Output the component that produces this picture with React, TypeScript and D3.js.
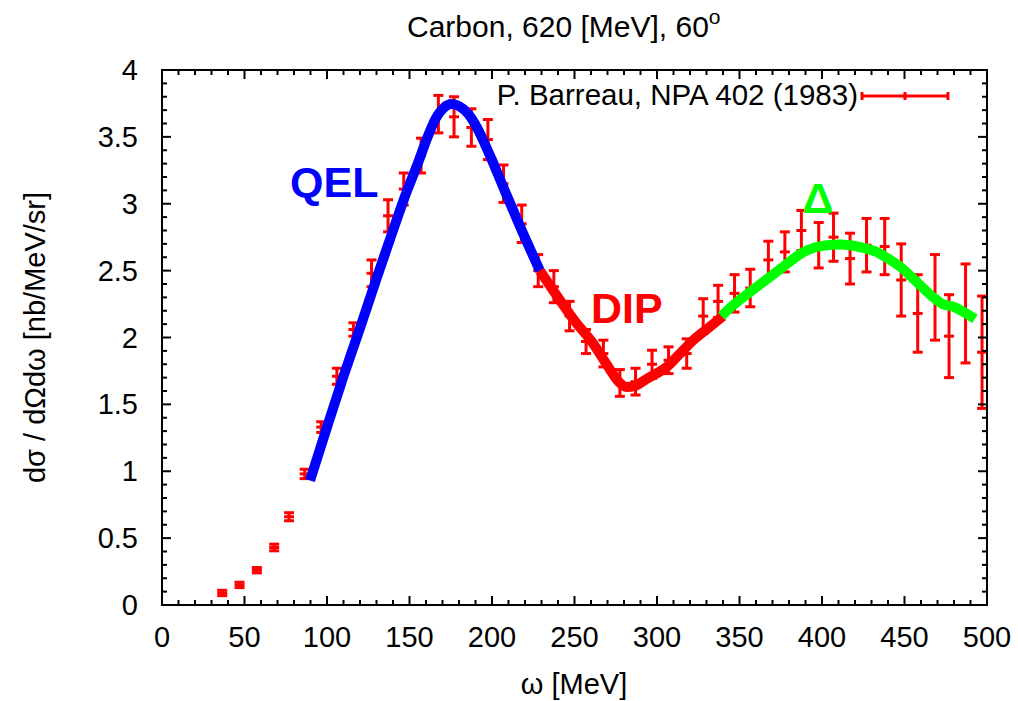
import React, { useEffect, useRef } from 'react';
import * as d3 from 'd3';

// measured points (Barreau, NPA 402)
const omega = [36.5, 47, 57.5, 68, 77, 86.5, 96.5, 106, 116, 127, 137, 146.5, 157, 167.5, 177, 187.5, 197.5, 207, 218, 228,
  237.5, 247, 257, 267.5, 277.5, 287, 297, 307, 318, 328, 337, 347, 356.5, 367.5, 377.5, 387.5, 398, 407, 417, 427,
  438, 448, 458, 468.5, 477, 487, 497];
const sigma = [0.09, 0.15, 0.26, 0.43, 0.66, 0.98, 1.33, 1.71, 2.06, 2.48, 2.91, 3.11, 3.36, 3.67, 3.65, 3.57, 3.48, 3.15, 2.85, 2.5,
  2.38, 2.16, 1.97, 1.88, 1.66, 1.67, 1.8, 1.83, 1.88, 2.16, 2.27, 2.33, 2.37, 2.58, 2.64, 2.8, 2.69, 2.75, 2.59, 2.69,
  2.68, 2.43, 2.18, 2.3, 2.01, 2.18, 1.89];
const sigmaErr = [0.02, 0.02, 0.02, 0.025, 0.03, 0.035, 0.04, 0.06, 0.05, 0.1, 0.12, 0.12, 0.13, 0.14, 0.15, 0.14, 0.15, 0.14, 0.14, 0.12,
  0.12, 0.11, 0.09, 0.1, 0.1, 0.1, 0.105, 0.1, 0.11, 0.13, 0.12, 0.14, 0.14, 0.14, 0.15, 0.15, 0.17, 0.18, 0.19, 0.2,
  0.21, 0.27, 0.29, 0.32, 0.31, 0.37, 0.42];

// model curves
const qelOmega = [89.7, 100, 110, 120, 130, 140, 148, 155, 161, 166, 171, 175.5, 180, 185, 190, 198.8, 208, 217, 229];
const qelValue = [0.93, 1.33, 1.71, 2.07, 2.44, 2.8, 3.08, 3.3, 3.5, 3.64, 3.72, 3.745, 3.73, 3.68, 3.59, 3.36, 3.09, 2.83, 2.5];
const dipOmega = [229, 240, 251, 260.4, 270.5, 276, 281.6, 287, 293.7, 305.9, 314, 322, 331, 340];
const dipValue = [2.5, 2.3, 2.11, 1.97, 1.78, 1.68, 1.63, 1.64, 1.69, 1.78, 1.88, 1.98, 2.07, 2.16];
const deltaOmega = [339, 347, 356.4, 366, 376.6, 384, 390.7, 396, 402.8, 411, 417, 425, 433, 440, 447.3, 457, 467.5, 473, 479.6, 486, 492.7];
const deltaValue = [2.16, 2.25, 2.34, 2.43, 2.53, 2.6, 2.65, 2.675, 2.69, 2.695, 2.69, 2.67, 2.64, 2.59, 2.53, 2.42, 2.3, 2.25, 2.23, 2.19, 2.14];

const xTicks = [0, 50, 100, 150, 200, 250, 300, 350, 400, 450, 500];
const yTicks = [0, 0.5, 1, 1.5, 2, 2.5, 3, 3.5, 4];

const FONT = '"Liberation Sans", Arial, sans-serif';

const App = () => {
  const ref = useRef<SVGSVGElement>(null);

  useEffect(() => {
    document.body.style.margin = '0';
    const svg = d3.select(ref.current);
    svg.selectAll('*').remove();

    const left = 162, right = 987, top = 70, bottom = 605;
    const x = d3.scaleLinear().domain([0, 500]).range([left, right]);
    const y = d3.scaleLinear().domain([0, 4]).range([bottom, top]);

    // data with error bars
    const pts = svg.append('g').attr('stroke', '#ff0000').attr('stroke-width', 3);
    omega.forEach((w, i) => {
      const cx = x(w);
      const lo = y(sigma[i] - sigmaErr[i]);
      const hi = y(sigma[i] + sigmaErr[i]);
      pts.append('line').attr('x1', cx).attr('x2', cx).attr('y1', lo).attr('y2', hi);
      pts.append('line').attr('x1', cx - 5).attr('x2', cx + 5).attr('y1', lo).attr('y2', lo);
      pts.append('line').attr('x1', cx - 5).attr('x2', cx + 5).attr('y1', hi).attr('y2', hi);
      pts.append('line').attr('x1', cx - 5).attr('x2', cx + 5).attr('y1', y(sigma[i])).attr('y2', y(sigma[i]));
    });

    // theory curves
    const line = d3.line<number>().curve(d3.curveMonotoneX);
    const drawCurve = (ws: number[], vs: number[], color: string) => {
      svg.append('path')
        .attr('d', line.x((d, i) => x(ws[i])).y(d => y(d))(vs))
        .attr('fill', 'none')
        .attr('stroke', color)
        .attr('stroke-width', 10);
    };
    drawCurve(qelOmega, qelValue, '#0000ff');
    drawCurve(dipOmega, dipValue, '#ff0000');
    drawCurve(deltaOmega, deltaValue, '#00ff00');

    // frame and ticks on all sides
    const axes = svg.append('g').attr('stroke', '#000').attr('stroke-width', 2);
    for (let v = 0; v <= 500; v += 10) {
      const len = v % 50 === 0 ? 9 : 5;
      axes.append('line').attr('x1', x(v)).attr('x2', x(v)).attr('y1', bottom).attr('y2', bottom - len);
      axes.append('line').attr('x1', x(v)).attr('x2', x(v)).attr('y1', top).attr('y2', top + len);
    }
    for (let k = 0; k <= 40; k++) {
      const v = k / 10;
      const len = k % 5 === 0 ? 9 : 5;
      axes.append('line').attr('x1', left).attr('x2', left + len).attr('y1', y(v)).attr('y2', y(v));
      axes.append('line').attr('x1', right).attr('x2', right - len).attr('y1', y(v)).attr('y2', y(v));
    }
    axes.append('rect').attr('x', left).attr('y', top).attr('width', right - left).attr('height', bottom - top)
      .attr('fill', 'none');

    const txt = svg.append('g').attr('font-family', FONT).attr('fill', '#000');
    txt.selectAll('.xt').data(xTicks).enter().append('text')
      .attr('x', d => x(d)).attr('y', 647).attr('text-anchor', 'middle').attr('font-size', 29)
      .text(d => String(d));
    txt.selectAll('.yt').data(yTicks).enter().append('text')
      .attr('x', 138).attr('y', d => y(d) + 10).attr('text-anchor', 'end').attr('font-size', 29)
      .text(d => String(d));

    txt.append('text').attr('x', 574).attr('y', 694).attr('text-anchor', 'middle').attr('font-size', 29)
      .text('ω [MeV]');
    txt.append('text').attr('transform', `translate(45,${(top + bottom) / 2}) rotate(-90)`)
      .attr('text-anchor', 'middle').attr('font-size', 29)
      .text('dσ / dΩdω [nb/MeV/sr]');

    const title = txt.append('text').attr('x', 407).attr('y', 37).attr('font-size', 30);
    title.append('tspan').text('Carbon, 620 [MeV], 60');
    title.append('tspan').attr('dy', -13).attr('font-size', 21).text('o');

    // legend
    txt.append('text').attr('x', 858).attr('y', 105).attr('text-anchor', 'end').attr('font-size', 29.5)
      .text('P. Barreau, NPA 402 (1983)');
    const lg = svg.append('g').attr('stroke', '#ff0000').attr('stroke-width', 3);
    lg.append('line').attr('x1', 862).attr('x2', 948).attr('y1', 96).attr('y2', 96);
    [862, 905, 948].forEach(cx => {
      lg.append('line').attr('x1', cx).attr('x2', cx).attr('y1', 92).attr('y2', 100);
    });

    // region labels
    const lab = svg.append('g').attr('font-family', FONT).attr('font-weight', 'bold').attr('font-size', 43);
    lab.append('text').attr('x', 290).attr('y', 197).attr('fill', '#0000ff').text('QEL');
    lab.append('text').attr('x', 591).attr('y', 323).attr('fill', '#ff0000').text('DIP');
    lab.append('text').attr('x', 818).attr('y', 213).attr('text-anchor', 'middle').attr('fill', '#00ff00').text('Δ');
  }, []);

  return <svg ref={ref} width={1018} height={701} style={{ display: 'block', background: '#fff' }} />;
};

export default App;
